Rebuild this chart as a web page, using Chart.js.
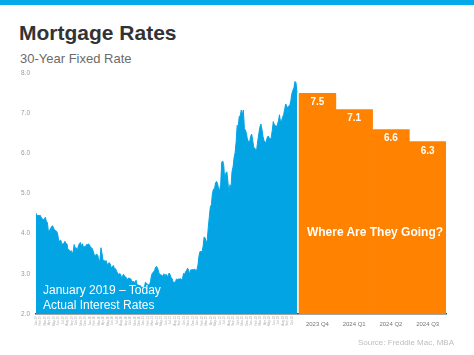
<!DOCTYPE html>
<html>
<head>
<meta charset="utf-8">
<script src="https://cdn.jsdelivr.net/npm/chart.js@4.4.0/dist/chart.umd.min.js"></script>
<style>
  html, body { margin:0; padding:0; background:#fff; }
  #wrap { position:relative; width:474px; height:355px; overflow:hidden; background:#fff; font-family:"Liberation Sans", Arial, sans-serif; }
  #band { position:absolute; left:0; top:0; width:474px; height:5px; background:#03A9E8; }
  #title { position:absolute; left:19px; top:22px; font-size:21px; line-height:21px; font-weight:bold; color:#333; white-space:nowrap; }
  #sub { position:absolute; left:20px; top:52px; font-size:13px; line-height:13px; color:#6b6b6b; white-space:nowrap; }
  #c { position:absolute; left:0; top:0; }
  #note1 { position:absolute; left:43px; top:282.5px; font-size:12px; line-height:15.5px; color:#fff; white-space:nowrap; }
  #note2 { position:absolute; left:302px; width:146px; top:226px; font-size:12px; line-height:12px; font-weight:bold; color:#fff; text-align:center; white-space:nowrap; }
  #src { position:absolute; right:20px; top:339px; font-size:8px; line-height:8px; color:#bdbdbd; white-space:nowrap; }
</style>
</head>
<body>
<div id="wrap">
  <div id="band"></div>
  <div id="title">Mortgage Rates</div>
  <div id="sub">30-Year Fixed Rate</div>
  <canvas id="c" width="474" height="355"></canvas>
  <div id="note1">January 2019 – Today<br>Actual Interest Rates</div>
  <div id="note2">Where Are They Going?</div>
  <div id="src">Source: Freddie Mac, MBA</div>
</div>
<script>
// Weekly 30-year fixed rates (Jan 2019 – Nov 2023)
const rates2019 = [4.51,4.45,4.45,4.45,4.46,4.41,4.37,4.35,4.35,4.41,4.31,4.28,4.06,4.08,4.12,4.17,4.20,4.14,4.10,4.07,4.06,3.99,3.82,3.82,3.84,3.73,3.75,3.75,3.81,3.75,3.75,3.60,3.60,3.55,3.58,3.49,3.56,3.73,3.64,3.65,3.57,3.69,3.75,3.78,3.69,3.75,3.66,3.68,3.68,3.73,3.73,3.74];
const rates2020 = [3.72,3.64,3.65,3.60,3.51,3.45,3.47,3.49,3.45,3.29,3.36,3.65,3.50,3.33,3.33,3.31,3.33,3.23,3.26,3.28,3.24,3.15,3.18,3.21,3.13,3.13,3.07,3.03,2.98,3.01,2.99,2.88,2.96,2.99,2.91,2.93,2.86,2.87,2.90,2.88,2.87,2.81,2.80,2.81,2.78,2.84,2.72,2.72,2.71,2.71,2.67,2.66,2.67];
const rates2021 = [2.65,2.79,2.77,2.73,2.73,2.73,2.81,2.97,3.02,3.05,3.09,3.17,3.18,3.13,3.04,2.97,2.98,2.96,2.94,3.00,2.95,2.99,2.96,2.93,3.02,2.98,2.90,2.88,2.78,2.80,2.77,2.87,2.86,2.87,2.87,2.88,2.86,2.88,3.01,2.99,3.05,3.09,3.14,3.09,2.98,3.10,3.10,3.11,3.10,3.12,3.05,3.11];
const rates2022 = [3.22,3.45,3.56,3.55,3.55,3.69,3.92,3.89,3.76,3.85,4.16,4.42,4.67,4.72,5.00,5.11,5.10,5.27,5.30,5.25,5.10,5.09,5.23,5.78,5.81,5.70,5.30,5.51,5.54,5.30,4.99,5.22,5.13,5.55,5.66,5.89,6.02,6.29,6.70,6.66,6.92,6.94,7.08,6.95,7.08,6.61,6.58,6.49,6.33,6.31,6.27,6.42];
const rates2023 = [6.48,6.33,6.15,6.13,6.09,6.12,6.32,6.50,6.65,6.73,6.60,6.42,6.32,6.28,6.27,6.39,6.43,6.39,6.35,6.39,6.57,6.79,6.71,6.69,6.67,6.71,6.81,6.96,6.78,6.81,6.90,6.96,7.09,7.23,7.18,7.12,7.18,7.19,7.31,7.49,7.57,7.63,7.79,7.76,7.50];

// Forecast bars
const forecastLabels = ['2023 Q4','2024 Q1','2024 Q2','2024 Q3'];
const forecastValues = [7.5, 7.1, 6.6, 6.3];

// Month tick labels under the actual-rate area
const monthLabels = ['Jan-19','Feb-19','Mar-19','Apr-19','May-19','Jun-19','Jul-19','Aug-19','Sep-19','Oct-19','Nov-19','Dec-19',
  'Jan-20','Feb-20','Mar-20','Apr-20','May-20','Jun-20','Jul-20','Aug-20','Sep-20','Oct-20','Nov-20','Dec-20',
  'Jan-21','Feb-21','Mar-21','Apr-21','May-21','Jun-21','Jul-21','Aug-21','Sep-21','Oct-21','Nov-21','Dec-21',
  'Jan-22','Feb-22','Mar-22','Apr-22','May-22','Jun-22','Jul-22','Aug-22','Sep-22','Oct-22','Nov-22','Dec-22',
  'Jan-23','Feb-23','Mar-23','Apr-23','May-23','Jun-23','Jul-23','Aug-23','Sep-23','Oct-23'];
const yTickValues = [2, 3, 4, 5, 6, 7, 8];

const BLUE = '#03A4E4';
const ORANGE = '#FF8200';
Chart.defaults.font.family = '"Liberation Sans", Arial, sans-serif';

const actual = [].concat(rates2019, rates2020, rates2021, rates2022, rates2023);
const lastIdx = actual.length - 1;
const GAP = 2, SPAN = 35.6; // layout: gap and width of each forecast column, in week units
const xMax = lastIdx + GAP + SPAN * forecastLabels.length;
const barCenters = forecastLabels.map((_, i) => lastIdx + GAP + SPAN * (i + 0.5));
const monthPos = monthLabels.map((_, m) => m * 52.18 / 12);

const valueLabels = {
  id: 'valueLabels',
  afterDatasetsDraw(chart) {
    const meta = chart.getDatasetMeta(1);
    const c = chart.ctx;
    c.save();
    c.fillStyle = '#fff';
    c.font = 'bold 10px "Liberation Sans", Arial, sans-serif';
    c.textAlign = 'center';
    c.textBaseline = 'middle';
    meta.data.forEach((el, i) => {
      c.fillText(forecastValues[i].toFixed(1), el.x, el.y + 9.5);
    });
    c.restore();
  }
};

new Chart(document.getElementById('c').getContext('2d'), {
  type: 'line',
  data: {
    datasets: [
      {
        type: 'line',
        label: 'Actual',
        data: actual.map((v, i) => ({x: i, y: v})),
        xAxisID: 'x', yAxisID: 'y',
        borderColor: BLUE, backgroundColor: BLUE,
        borderWidth: 1, pointRadius: 0, fill: 'start', tension: 0
      },
      {
        type: 'bar',
        label: 'Forecast',
        data: forecastValues.map((v, i) => ({x: barCenters[i], y: v})),
        xAxisID: 'xq', yAxisID: 'y',
        backgroundColor: ORANGE, borderWidth: 0, grouped: false,
        categoryPercentage: 1, barPercentage: 1.02
      }
    ]
  },
  options: {
    responsive: false, animation: false, devicePixelRatio: 1,
    layout: { padding: { left: 0, right: 28, top: 73, bottom: 41 } },
    plugins: { legend: { display: false }, tooltip: { enabled: false } },
    scales: {
      x: {
        type: 'linear', axis: 'x', position: { y: 2 }, min: 0, max: xMax, offset: false,
        grid: { display: false, drawTicks: false, offset: false },
        border: { display: true, color: '#4a4a4a', width: 1.5 },
        afterBuildTicks: s => { s.ticks = monthPos.map(v => ({value: v})); },
        ticks: { autoSkip: false, minRotation: 90, maxRotation: 90, font: { size: 3 }, color: '#aaa', padding: 2,
          callback: (v, i) => monthLabels[i] }
      },
      xq: {
        type: 'linear', axis: 'x', position: { y: 2 }, min: 0, max: xMax, offset: false,
        grid: { display: false, drawTicks: false, offset: false },
        border: { display: false },
        afterBuildTicks: s => { s.ticks = barCenters.map(v => ({value: v})); },
        ticks: { autoSkip: false, minRotation: 0, maxRotation: 0, font: { size: 6 }, color: '#777', padding: 7,
          callback: (v, i) => forecastLabels[i] }
      },
      y: {
        type: 'linear', min: 2, max: 8, beginAtZero: false,
        afterFit: s => { s.width = 36; },
        afterBuildTicks: s => { s.ticks = yTickValues.map(v => ({value: v})); },
        grid: { display: false, drawTicks: false },
        border: { display: false },
        ticks: { font: { size: 6.5 }, color: '#999', padding: 6, callback: v => v.toFixed(1) }
      }
    }
  },
  plugins: [valueLabels]
});
</script>
</body>
</html>
